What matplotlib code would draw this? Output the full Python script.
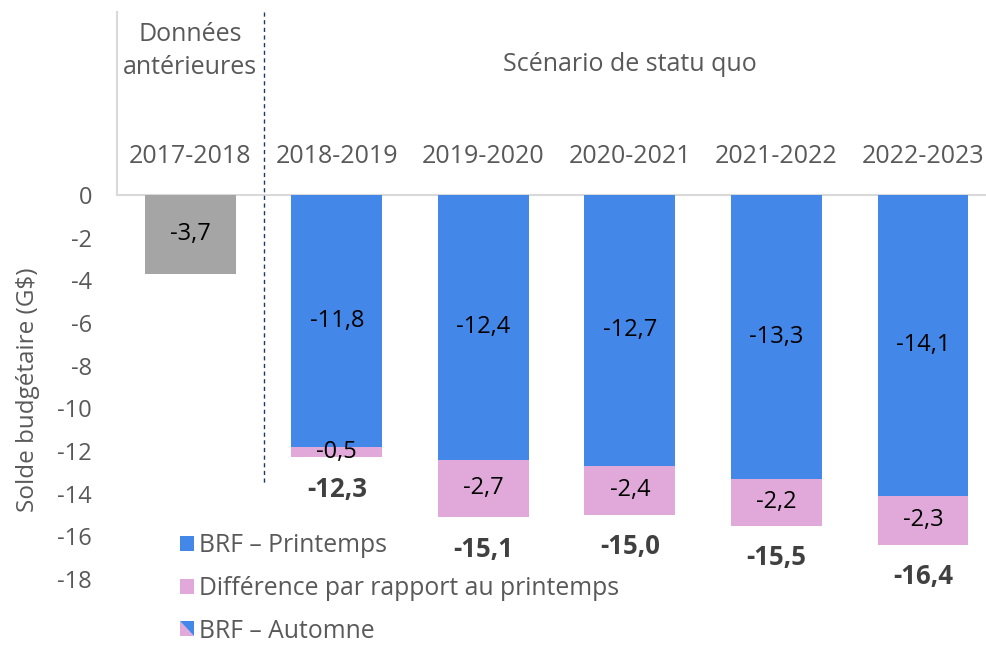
import matplotlib
matplotlib.use("Agg")
import matplotlib.pyplot as plt
from matplotlib.patches import Rectangle, Polygon
from matplotlib.legend_handler import HandlerBase

plt.rcParams['font.family'] = ['Open Sans', 'DejaVu Sans']

# Data
years = ["2017-2018", "2018-2019", "2019-2020", "2020-2021", "2021-2022", "2022-2023"]
historique = -3.7
printemps = [-11.8, -12.4, -12.7, -13.3, -14.1]
difference = [-0.5, -2.7, -2.4, -2.2, -2.3]
automne = [-12.3, -15.1, -15.0, -15.5, -16.4]
yticks = [0, -2, -4, -6, -8, -10, -12, -14, -16, -18]

# Colours
c_blue = "#4387E8"
c_pink = "#E1A9DA"
c_grey = "#A5A5A5"
c_text = "#595959"
c_dark = "#404040"


# split square for the "BRF - Automne" legend entry
class SplitHandler(HandlerBase):
    def create_artists(self, legend, orig_handle, xdescent, ydescent,
                       width, height, fontsize, trans):
        x0, y0 = -xdescent, -ydescent
        x1, y1 = x0 + width, y0 + height
        blue = Polygon([(x0, y1), (x1, y1), (x1, y0)], closed=True,
                       facecolor=c_blue, edgecolor="none", transform=trans)
        pink = Polygon([(x0, y1), (x0, y0), (x1, y0)], closed=True,
                       facecolor=c_pink, edgecolor="none", transform=trans)
        return [pink, blue]


def fr(v):
    return f"{v:.1f}".replace(".", ",")


fig = plt.figure(figsize=(9.86, 6.45), dpi=100)
ax = fig.add_axes([117 / 986, 1 - 600.3 / 645, 869 / 986, 588.8 / 645])

x_fut = list(range(1, len(years)))
w = 0.62

ax.bar(0, historique, width=w, color=c_grey)
b1 = ax.bar(x_fut, printemps, width=w, color=c_blue)
heights = [a - p for a, p in zip(automne, printemps)]
b2 = ax.bar(x_fut, heights, bottom=printemps, width=w, color=c_pink)

# labels inside bars
ax.text(0, historique / 2, fr(historique), ha="center", va="center",
        fontsize=17, color="black")
for x, p, d, a in zip(x_fut, printemps, difference, automne):
    ax.text(x, p / 2, fr(p), ha="center", va="center", fontsize=17, color="black")
    ax.text(x, (p + a) / 2, fr(d), ha="center", va="center", fontsize=17,
            color="black")
    ax.text(x, a - 1.5, fr(a), ha="center", va="center", fontsize=18.5,
            fontweight="bold", color=c_dark)

# header area
ytop = 8.6
ax.set_xlim(-0.5, 5.43)
ax.set_ylim(-19, ytop)
for i, yr in enumerate(years):
    ax.text(i, 1.78, yr, ha="center", va="center", fontsize=18, color=c_text)
ax.text(0, 6.75, "Données\nantérieures", ha="center", va="center",
        fontsize=18, color=c_text, linespacing=1.45)
ax.text(3, 6.1, "Scénario de statu quo", ha="center", va="center",
        fontsize=18, color=c_text)

ax.axhline(0, color="#D9D9D9", lw=1.5, zorder=0)
ax.plot([-0.5, -0.5], [0, ytop], color="#D9D9D9", lw=1.5, clip_on=False)
ax.plot([0.5, 0.5], [ytop, -13.6], color="#1F3864", lw=1,
        linestyle=(0, (3, 2.5)))

for s in ax.spines.values():
    s.set_visible(False)
ax.set_xticks([])
ax.set_yticks(yticks)
ax.set_yticklabels([str(t) for t in yticks])
ax.tick_params(axis="y", length=0, pad=18, labelsize=17, labelcolor=c_text)

ax.set_ylabel("Solde budgétaire (G$)", fontsize=17.5, color=c_text, va="center")
ax.yaxis.set_label_coords((28 - 117) / 869, (600.3 - 390) / 588.8)

h_auto = Rectangle((0, 0), 1, 1)
leg = fig.legend([b1, b2, h_auto],
                 ["BRF – Printemps", "Différence par rapport au printemps", "BRF – Automne"],
                 handler_map={h_auto: SplitHandler()},
                 loc="upper left", bbox_to_anchor=(180 / 986, 1 - 533 / 645),
                 frameon=False, fontsize=17.8, handlelength=0.55, handleheight=0.55,
                 handletextpad=0.2, labelspacing=0.72, borderpad=0,
                 borderaxespad=0)
for t in leg.get_texts():
    t.set_color(c_text)

fig.savefig("out.png", dpi=100)
